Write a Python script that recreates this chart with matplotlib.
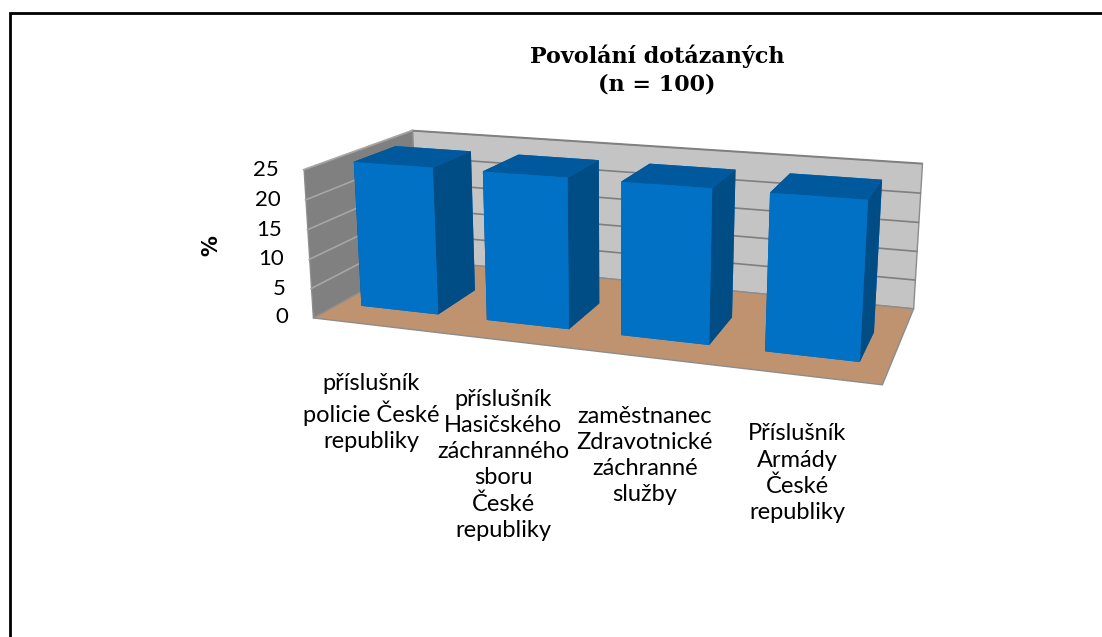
import numpy as np
import matplotlib.pyplot as plt
from matplotlib.patches import Rectangle
from mpl_toolkits.mplot3d import proj3d
from mpl_toolkits.mplot3d.art3d import Poly3DCollection

# data
categories = ["příslušník\npolicie České\nrepubliky",
              "příslušník\nHasičského\nzáchranného\nsboru\nČeské\nrepubliky",
              "zaměstnanec\nZdravotnické\nzáchranné\nslužby",
              "Příslušník\nArmády\nČeské\nrepubliky"]
values = [25, 25, 25, 25]
zticks = [0, 5, 10, 15, 20, 25]

W, H = 1102, 637
fig = plt.figure(figsize=(W / 100, H / 100), dpi=100)
S = 610  # side of the square 3d axes, px
cx, cy = 608, 249  # centre of the 3d box, px from top-left
ax = fig.add_axes([(cx - S / 2) / W, 1 - (cy + S / 2) / H, S / W, S / H],
                  projection='3d', computed_zorder=False)
ax.set_proj_type('persp', focal_length=0.4)
ax.view_init(elev=15, azim=-71, roll=0)

n = len(values)
x = np.arange(n)
xmin, xmax = -0.5, n - 0.5
ymin, ymax = 0.0, 1.6
zmax = zticks[-1]
ax.set_xlim(xmin, xmax)
ax.set_ylim(ymin, ymax)
ax.set_zlim(0, zmax)
ax.set_box_aspect((xmax - xmin, ymax - ymin, 1.07), zoom=1.0)
ax.set_axis_off()
ax.patch.set_alpha(0)

# walls and floor
left_wall = [(xmin, ymin, 0), (xmin, ymax, 0), (xmin, ymax, zmax), (xmin, ymin, zmax)]
back_wall = [(xmin, ymax, 0), (xmax, ymax, 0), (xmax, ymax, zmax), (xmin, ymax, zmax)]
floor = [(xmin, ymin, 0), (xmax, ymin, 0), (xmax, ymax, 0), (xmin, ymax, 0)]
ax.add_collection3d(Poly3DCollection([left_wall], facecolor='#808080', edgecolor='#8c8c8c', lw=1, zorder=1))
ax.add_collection3d(Poly3DCollection([back_wall], facecolor='#c4c4c4', edgecolor='#8c8c8c', lw=1, zorder=1))
ax.add_collection3d(Poly3DCollection([floor], facecolor='#bf9370', edgecolor='#8c8c8c', lw=1, zorder=1))

for z in zticks[1:]:
    ax.plot([xmin, xmax], [ymax, ymax], [z, z], color='#7f7f7f', lw=1.2, zorder=2)
    ax.plot([xmin, xmin], [ymin, ymax], [z, z], color='#a6a6a6', lw=1.2, zorder=2)

# faces: bottom, top, front, back, left, right
face_cols = ['#0070c0', '#00599c', '#0071c5', '#0071c5', '#004c85', '#004c85']
bw = 0.62
ax.bar3d(x - bw / 2, 0.35, 0, bw, bw, values, color=face_cols * n, shade=False, zorder=3)

for art in ax.collections + ax.lines:
    art.set_clip_on(False)

M = ax.get_proj()


def proj(px, py, pz):
    u, v, _ = proj3d.proj_transform(px, py, pz, M)
    return u, v


for z in zticks:
    ax.annotate(str(z), proj(xmin, ymin, z), xytext=(-18, 0), textcoords='offset points',
                ha='right', va='center', fontsize=16, family='Lato', annotation_clip=False)

for i, lab in enumerate(categories):
    ax.annotate(lab, proj(x[i], ymin, 0), xytext=(-3, -35), textcoords='offset points',
                ha='center', va='top', fontsize=17, family='Lato', linespacing=1.3,
                annotation_clip=False)

fig.text(0.596, 0.93, "Povolání dotázaných\n(n = 100)", ha='center', va='top',
         fontsize=16, fontweight='bold', family='DejaVu Serif', linespacing=1.3)
fig.text(0.192, 0.615, "%", rotation=90, ha='center', va='center',
         fontsize=15, fontweight='bold')

fig.patches.append(Rectangle((10 / W, -0.1), 1.2, 1.1 - 13 / H, transform=fig.transFigure,
                             fill=False, ec='black', lw=2))

fig.savefig('out.png', dpi=100)
